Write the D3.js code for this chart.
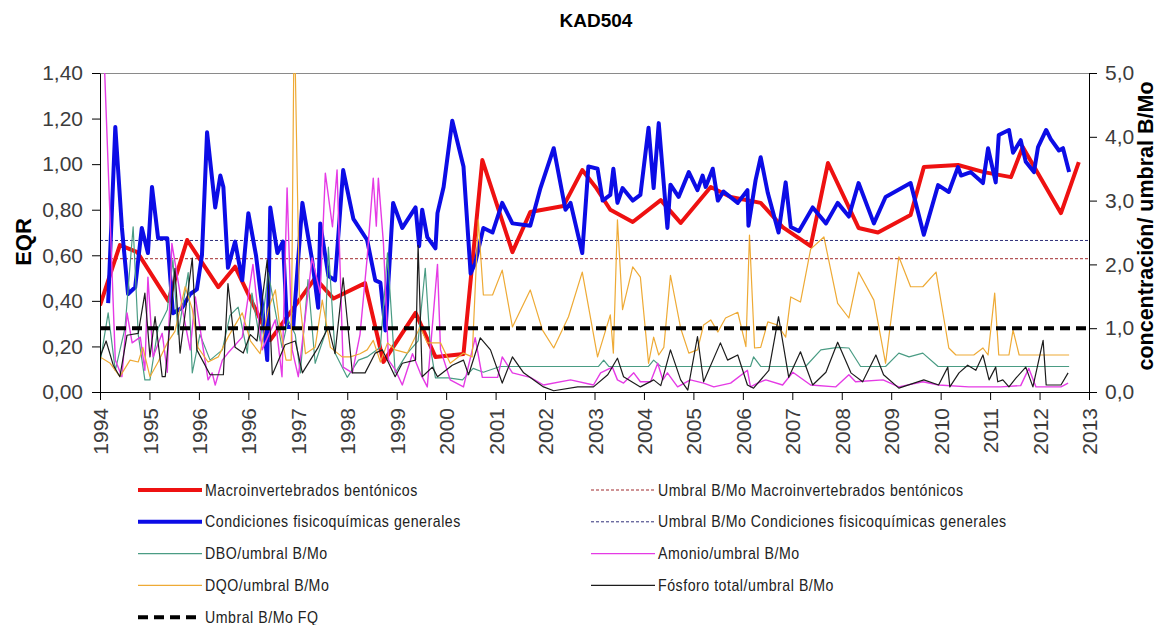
<!DOCTYPE html>
<html lang="es">
<head>
<meta charset="utf-8">
<title>KAD504</title>
<script src="https://cdn.jsdelivr.net/npm/d3@7"></script>
<style>
    body { margin: 0; background: #fff; }
    text { font-family: 'Liberation Sans', Arial, sans-serif; }
    .tick text { fill: #3c3c3c; font-size: 21px; }
    .tick line, .domain { stroke: #000; }
    .legend text {
        font-family: 'Liberation Sans Narrow', 'Arial Narrow', 'Liberation Sans', sans-serif;
        font-size: 16px;
        letter-spacing: 0.6px;
        fill: #222;
    }
</style>
</head>
<body>
<div class="chart-container"></div>
<script>
// x axis: date axis, one tick every ~0.97 years starting early 1994
const tickLabels = ['1994', '1995', '1996', '1996', '1997', '1998', '1999', '2000', '2001', '2002', '2003',
    '2004', '2005', '2006', '2007', '2008', '2009', '2010', '2011', '2012', '2013']
const axisStart = 1994.07
const tickStep = 0.97

const eqrTicks = [0, 0.2, 0.4, 0.6, 0.8, 1.0, 1.2, 1.4]
const ratioTicks = [0, 1, 2, 3, 4, 5]

// thresholds
const umbralMacro = 0.585
const umbralCondiciones = 0.665
const umbralFQ = 1.0

// EQR series (left axis)
const macro = [[1994.07, 0.38], [1994.46, 0.645], [1994.80, 0.614], [1995.41, 0.40], [1995.78, 0.667],
    [1996.39, 0.46], [1996.72, 0.55], [1997.41, 0.228], [1998.29, 0.50], [1998.65, 0.41], [1999.27, 0.478],
    [1999.63, 0.132], [2000.26, 0.347], [2000.65, 0.154], [2001.20, 0.167], [2001.57, 1.018], [2002.16, 0.614],
    [2002.51, 0.79], [2003.16, 0.816], [2003.53, 0.974], [2003.79, 0.90], [2004.08, 0.80], [2004.52, 0.746],
    [2005.07, 0.842], [2005.46, 0.742], [2006.05, 0.90], [2006.44, 0.856], [2007.03, 0.83], [2007.46, 0.724],
    [2008.01, 0.64], [2008.35, 1.005], [2008.95, 0.72], [2009.33, 0.70], [2009.97, 0.777], [2010.23, 0.987],
    [2010.90, 0.996], [2011.41, 0.965], [2011.94, 0.943], [2012.17, 1.075], [2012.92, 0.785], [2013.27, 1.009]]

const condiciones = [[1994.23, 0.39], [1994.37, 1.163], [1994.50, 0.72], [1994.62, 0.43], [1994.76, 0.46],
    [1994.89, 0.72], [1995.01, 0.61], [1995.09, 0.90], [1995.21, 0.675], [1995.39, 0.675], [1995.50, 0.346],
    [1995.68, 0.37], [1995.84, 0.43], [1995.97, 0.45], [1996.07, 0.60], [1996.17, 1.14], [1996.33, 0.81],
    [1996.43, 0.95], [1996.49, 0.90], [1996.58, 0.545], [1996.72, 0.66], [1996.86, 0.49], [1996.98, 0.785],
    [1997.13, 0.60], [1997.25, 0.38], [1997.35, 0.14], [1997.41, 0.81], [1997.55, 0.61], [1997.66, 0.66],
    [1997.74, 0.285], [1997.86, 0.285], [1998.04, 0.83], [1998.23, 0.58], [1998.35, 0.37], [1998.39, 0.74],
    [1998.55, 0.51], [1998.68, 0.49], [1998.84, 0.974], [1999.04, 0.76], [1999.31, 0.667], [1999.47, 0.49],
    [1999.57, 0.48], [1999.67, 0.27], [1999.82, 0.83], [2000.00, 0.72], [2000.26, 0.81], [2000.33, 0.64],
    [2000.39, 0.80], [2000.49, 0.68], [2000.65, 0.63], [2000.69, 0.785], [2000.81, 0.90], [2000.98, 1.19],
    [2001.20, 0.99], [2001.34, 0.52], [2001.43, 0.566], [2001.59, 0.72], [2001.77, 0.70], [2001.96, 0.83],
    [2002.16, 0.74], [2002.51, 0.73], [2002.71, 0.895], [2002.97, 1.07], [2003.20, 0.80], [2003.30, 0.83],
    [2003.53, 0.61], [2003.65, 0.99], [2003.83, 0.98], [2003.93, 0.84], [2004.08, 0.865], [2004.14, 0.98],
    [2004.22, 0.83], [2004.32, 0.895], [2004.52, 0.84], [2004.67, 0.865], [2004.83, 1.16], [2004.93, 0.895],
    [2005.03, 1.18], [2005.20, 0.72], [2005.26, 0.91], [2005.42, 0.856], [2005.62, 0.965], [2005.79, 0.886],
    [2005.89, 0.95], [2005.95, 0.90], [2006.09, 0.98], [2006.19, 0.84], [2006.30, 0.88], [2006.58, 0.83],
    [2006.77, 0.886], [2006.79, 0.73], [2006.93, 0.93], [2007.03, 1.03], [2007.17, 0.873], [2007.38, 0.70],
    [2007.52, 0.92], [2007.62, 0.724], [2007.78, 0.706], [2008.05, 0.81], [2008.31, 0.74], [2008.54, 0.83],
    [2008.76, 0.77], [2008.95, 0.917], [2009.25, 0.74], [2009.48, 0.856], [2009.97, 0.917], [2010.23, 0.69],
    [2010.51, 0.908], [2010.72, 0.878], [2010.90, 0.987], [2010.96, 0.95], [2011.15, 0.965], [2011.39, 0.917],
    [2011.49, 1.07], [2011.64, 0.92], [2011.70, 1.128], [2011.90, 1.15], [2011.98, 1.05], [2012.13, 1.105],
    [2012.23, 1.01], [2012.39, 0.965], [2012.47, 1.075], [2012.63, 1.15], [2012.72, 1.11], [2012.88, 1.06],
    [2012.96, 1.07], [2013.08, 0.965]]

// concentration / B-Mo threshold series (right axis)
const dbo = [[1994.07, 0.45], [1994.23, 1.24], [1994.37, 0.34], [1994.56, 1.0], [1994.72, 2.59], [1994.82, 0.9],
    [1994.95, 0.19], [1995.05, 0.19], [1995.21, 1.0], [1995.39, 1.29], [1995.50, 2.07], [1995.60, 0.9],
    [1995.80, 1.87], [1995.88, 0.3], [1996.03, 0.9], [1996.23, 0.5], [1996.47, 0.66], [1996.62, 1.2],
    [1996.78, 1.33], [1996.96, 0.61], [1997.05, 1.55], [1997.21, 0.8], [1997.37, 1.87], [1997.64, 0.70],
    [1997.76, 1.13], [1997.90, 0.9], [1998.00, 0.3], [1998.15, 1.76], [1998.29, 0.45], [1998.49, 0.92],
    [1998.55, 2.27], [1998.68, 0.61], [1998.92, 0.23], [1999.14, 0.5], [1999.31, 0.55], [1999.57, 0.70],
    [1999.71, 2.18], [1999.86, 0.30], [2000.10, 0.61], [2000.31, 0.8], [2000.45, 1.94], [2000.55, 0.70],
    [2000.65, 0.22], [2000.90, 0.22], [2001.18, 0.19], [2001.39, 0.37], [2001.59, 0.31], [2001.92, 0.40],
    [2003.85, 0.40], [2003.95, 0.5], [2004.05, 0.40], [2004.83, 0.40], [2004.93, 0.5], [2005.07, 0.40],
    [2006.83, 0.40], [2006.89, 0.55], [2007.03, 0.40], [2007.91, 0.40], [2008.21, 0.66], [2008.54, 0.70],
    [2008.76, 0.69], [2008.99, 0.40], [2009.48, 0.40], [2009.74, 0.61], [2009.94, 0.55], [2010.21, 0.61],
    [2010.51, 0.40], [2013.08, 0.40]]

const amonio = [[1994.07, 7.0], [1994.37, 0.5], [1994.50, 0.24], [1994.60, 1.24], [1994.70, 0.77],
    [1994.86, 0.86], [1994.95, 0.34], [1995.01, 1.8], [1995.11, 0.55], [1995.29, 0.92], [1995.39, 0.31],
    [1995.48, 2.33], [1995.64, 1.55], [1995.70, 1.24], [1995.84, 0.66], [1995.94, 1.49], [1996.07, 0.8],
    [1996.19, 0.19], [1996.27, 0.3], [1996.33, 0.11], [1996.47, 0.5], [1996.58, 0.61], [1996.86, 0.86],
    [1997.07, 2.0], [1997.25, 0.66], [1997.51, 1.13], [1997.64, 0.24], [1997.74, 3.2], [1997.84, 0.66],
    [1997.96, 0.24], [1998.23, 2.1], [1998.39, 1.55], [1998.49, 3.43], [1998.63, 2.59], [1998.72, 3.48],
    [1998.84, 0.39], [1999.02, 0.3], [1999.17, 0.9], [1999.31, 2.1], [1999.43, 3.35], [1999.49, 2.6],
    [1999.53, 3.35], [1999.63, 2.33], [1999.73, 0.5], [1999.86, 0.35], [2000.00, 0.11], [2000.20, 0.6],
    [2000.35, 0.3], [2000.49, 0.08], [2000.69, 2.0], [2000.75, 0.66], [2000.94, 0.19], [2001.20, 0.08],
    [2001.43, 0.85], [2001.57, 0.23], [2001.87, 0.23], [2001.96, 0.55], [2002.16, 0.3], [2002.51, 0.23],
    [2002.77, 0.11], [2003.30, 0.19], [2003.75, 0.11], [2003.89, 0.3], [2004.12, 0.39], [2004.22, 0.19],
    [2004.34, 0.14], [2004.54, 0.3], [2004.67, 0.16], [2004.87, 0.16], [2005.01, 0.45], [2005.11, 0.19],
    [2005.20, 0.3], [2005.40, 0.08], [2005.65, 0.19], [2005.91, 0.14], [2006.11, 0.08], [2006.44, 0.14],
    [2006.77, 0.34], [2006.83, 0.08], [2006.97, 0.14], [2007.13, 0.19], [2007.46, 0.11], [2007.66, 0.31],
    [2008.01, 0.11], [2008.50, 0.08], [2008.76, 0.27], [2008.89, 0.16], [2009.43, 0.19], [2009.74, 0.08],
    [2010.21, 0.16], [2010.52, 0.11], [2011.11, 0.08], [2011.74, 0.08], [2012.13, 0.1], [2012.29, 0.37],
    [2012.43, 0.08], [2012.92, 0.08], [2013.06, 0.14]]

const dqo = [[1994.07, 0.55], [1994.27, 0.45], [1994.46, 0.24], [1994.66, 0.5], [1994.82, 0.47],
    [1994.91, 0.70], [1995.05, 0.24], [1995.21, 0.47], [1995.39, 0.77], [1995.54, 0.95], [1995.74, 1.65],
    [1995.88, 1.3], [1995.99, 0.70], [1996.19, 0.47], [1996.39, 0.55], [1996.58, 0.86], [1996.86, 1.24],
    [1997.02, 0.8], [1997.21, 0.6], [1997.37, 1.3], [1997.51, 1.6], [1997.60, 1.0], [1997.72, 0.5],
    [1997.82, 0.5], [1997.88, 6.0], [1997.98, 1.5], [1998.10, 0.6], [1998.29, 0.70], [1998.43, 1.44],
    [1998.59, 0.7], [1998.82, 0.55], [1998.98, 0.55], [1999.17, 0.6], [1999.31, 0.66], [1999.43, 0.81],
    [1999.57, 0.47], [1999.71, 0.77], [1999.86, 0.66], [2000.10, 0.61], [2000.35, 1.02], [2000.49, 0.77],
    [2000.75, 0.77], [2000.94, 0.45], [2001.20, 0.61], [2001.37, 0.55], [2001.49, 2.7], [2001.59, 1.52],
    [2001.77, 1.52], [2001.96, 1.91], [2002.16, 1.02], [2002.51, 1.6], [2002.75, 0.97], [2002.97, 0.69],
    [2003.26, 1.18], [2003.53, 1.88], [2003.83, 0.55], [2004.08, 1.21], [2004.14, 0.61], [2004.22, 2.70],
    [2004.32, 1.29], [2004.52, 1.96], [2004.67, 1.8], [2004.83, 0.45], [2004.93, 0.86], [2005.03, 0.58],
    [2005.13, 0.7], [2005.26, 1.83], [2005.46, 1.0], [2005.62, 0.61], [2005.79, 0.66], [2005.91, 1.05],
    [2006.05, 1.13], [2006.19, 0.94], [2006.34, 1.16], [2006.58, 1.25], [2006.74, 0.71], [2006.81, 2.46],
    [2006.91, 0.69], [2007.03, 0.70], [2007.17, 1.1], [2007.36, 1.05], [2007.52, 0.86], [2007.62, 1.49],
    [2007.81, 1.41], [2008.01, 2.24], [2008.27, 2.43], [2008.54, 1.39], [2008.76, 1.16], [2008.95, 1.88],
    [2009.25, 1.44], [2009.48, 0.45], [2009.74, 2.12], [2009.97, 1.65], [2010.21, 1.65], [2010.47, 1.88],
    [2010.72, 0.69], [2010.86, 0.58], [2011.21, 0.58], [2011.39, 0.69], [2011.49, 0.58], [2011.62, 1.55],
    [2011.70, 0.58], [2011.90, 0.58], [2011.98, 0.97], [2012.10, 0.58], [2013.08, 0.58]]

const fosforo = [[1994.07, 0.55], [1994.19, 0.8], [1994.33, 0.42], [1994.46, 0.24], [1994.60, 0.89],
    [1994.82, 0.92], [1994.95, 1.55], [1995.05, 0.55], [1995.15, 1.18], [1995.29, 0.24], [1995.35, 0.24],
    [1995.39, 0.61], [1995.54, 1.94], [1995.64, 0.61], [1995.88, 2.1], [1995.97, 0.66], [1996.23, 0.27],
    [1996.49, 0.27], [1996.58, 1.7], [1996.72, 0.7], [1996.88, 0.61], [1997.02, 0.9], [1997.15, 0.8],
    [1997.35, 2.07], [1997.45, 0.27], [1997.70, 0.74], [1997.90, 0.8], [1998.04, 0.3], [1998.35, 0.7],
    [1998.55, 1.02], [1998.68, 0.6], [1998.84, 1.79], [1999.02, 0.3], [1999.27, 0.3], [1999.47, 0.61],
    [1999.61, 0.66], [1999.86, 0.24], [2000.00, 0.45], [2000.26, 0.5], [2000.31, 2.3], [2000.39, 0.24],
    [2000.59, 0.39], [2000.69, 0.24], [2000.98, 0.42], [2001.20, 0.5], [2001.30, 0.27], [2001.53, 0.85],
    [2001.73, 0.66], [2001.96, 0.14], [2002.16, 0.55], [2002.38, 0.3], [2002.77, 0.08], [2002.97, 0.02],
    [2003.44, 0.08], [2003.75, 0.08], [2004.03, 0.27], [2004.22, 0.53], [2004.34, 0.24], [2004.67, 0.08],
    [2004.93, 0.19], [2005.07, 0.1], [2005.26, 0.66], [2005.46, 0.19], [2005.60, 0.03], [2005.79, 0.87],
    [2005.91, 0.16], [2006.24, 0.77], [2006.38, 0.5], [2006.58, 0.58], [2006.77, 0.11], [2006.89, 0.06],
    [2007.19, 0.34], [2007.38, 1.18], [2007.58, 0.23], [2007.81, 0.63], [2008.05, 0.11], [2008.31, 0.31],
    [2008.54, 0.78], [2008.80, 0.3], [2009.03, 0.16], [2009.29, 0.58], [2009.44, 0.27], [2009.74, 0.06],
    [2010.23, 0.19], [2010.52, 0.11], [2010.70, 0.39], [2010.74, 0.08], [2010.92, 0.30], [2011.09, 0.42],
    [2011.25, 0.34], [2011.39, 0.58], [2011.51, 0.19], [2011.64, 0.39], [2011.68, 0.16], [2011.78, 0.19],
    [2011.90, 0.08], [2012.04, 0.22], [2012.23, 0.39], [2012.37, 0.08], [2012.57, 0.81], [2012.63, 0.11],
    [2012.92, 0.11], [2013.06, 0.30]]

const width = 1159
const height = 625
const plot = { left: 100, right: 1089, top: 73, bottom: 392 }

const locale = d3.formatLocale({ decimal: ',', thousands: '.', grouping: [3], currency: ['', ' €'] })
const axisEnd = axisStart + tickStep * (tickLabels.length - 1)
const tickYears = tickLabels.map((d, i) => axisStart + i * tickStep)

const x = d3.scaleLinear().domain([axisStart, axisEnd]).range([plot.left, plot.right])
const yLeft = d3.scaleLinear().domain([0, 1.4]).range([plot.bottom, plot.top])
const yRight = d3.scaleLinear().domain([0, 5]).range([plot.bottom, plot.top])

const svg = d3
    .select('.chart-container')
    .append('svg')
    .attr('width', width)
    .attr('height', height)

svg.append('defs')
    .append('clipPath')
    .attr('id', 'plot-clip')
    .append('rect')
    .attr('x', plot.left)
    .attr('y', plot.top)
    .attr('width', plot.right - plot.left)
    .attr('height', plot.bottom - plot.top)

svg.append('text')
    .attr('x', 596)
    .attr('y', 27)
    .attr('text-anchor', 'middle')
    .style('font-size', '19px')
    .style('font-weight', 'bold')
    .text('KAD504')

// plot area top border
svg.append('line')
    .attr('x1', plot.left)
    .attr('x2', plot.right)
    .attr('y1', plot.top + 0.5)
    .attr('y2', plot.top + 0.5)
    .attr('stroke', '#8a8a8a')

// series, primary axis first so the ratio lines sit on top like in Excel
const series = [
    { data: [[axisStart, umbralMacro], [axisEnd, umbralMacro]], y: yLeft, color: '#a0282c', width: 1, dash: '3,2' },
    { data: [[axisStart, umbralCondiciones], [axisEnd, umbralCondiciones]], y: yLeft, color: '#30307a', width: 1, dash: '3,2' },
    { data: macro, y: yLeft, color: '#ee1111', width: 4 },
    { data: condiciones, y: yLeft, color: '#0c0ce6', width: 4 },
    { data: dbo, y: yRight, color: '#4a9c84', width: 1.2 },
    { data: amonio, y: yRight, color: '#e53be5', width: 1.4 },
    { data: dqo, y: yRight, color: '#eeaa35', width: 1.2 },
    { data: fosforo, y: yRight, color: '#1c1c1c', width: 1.2 },
    { data: [[axisStart, umbralFQ], [axisEnd, umbralFQ]], y: yRight, color: '#000', width: 4, dash: '10,6' }
]

const lines = svg.append('g').attr('clip-path', 'url(#plot-clip)')

lines.selectAll('path')
    .data(series)
    .enter()
    .append('path')
    .attr('fill', 'none')
    .attr('stroke', d => d.color)
    .attr('stroke-width', d => d.width)
    .attr('stroke-dasharray', d => d.dash || null)
    .attr('stroke-linejoin', 'round')
    .attr('d', d => d3.line().x(p => x(p[0])).y(p => d.y(p[1]))(d.data))

// axes
const xAxis = svg.append('g')
    .attr('transform', `translate(0,${plot.bottom})`)
    .call(d3.axisBottom(x)
        .tickValues(tickYears)
        .tickFormat((d, i) => tickLabels[i])
        .tickSize(8)
        .tickSizeOuter(0))
xAxis.selectAll('.tick text')
    .attr('transform', 'rotate(-90)')
    .attr('x', -16)
    .attr('y', 0)
    .attr('dy', '0.36em')
    .style('text-anchor', 'end')

svg.append('g')
    .attr('transform', `translate(${plot.left},0)`)
    .call(d3.axisLeft(yLeft)
        .tickValues(eqrTicks)
        .tickFormat(locale.format('.2f'))
        .tickSize(8)
        .tickPadding(9)
        .tickSizeOuter(0))

svg.append('g')
    .attr('transform', `translate(${plot.right},0)`)
    .call(d3.axisRight(yRight)
        .tickValues(ratioTicks)
        .tickFormat(locale.format('.1f'))
        .tickSize(8)
        .tickPadding(8)
        .tickSizeOuter(0))

svg.append('text')
    .attr('transform', 'translate(31,242) rotate(-90)')
    .attr('text-anchor', 'middle')
    .style('font-size', '22px')
    .style('font-weight', 'bold')
    .text('EQR')

svg.append('text')
    .attr('transform', 'translate(1153,226) rotate(-90)')
    .attr('text-anchor', 'middle')
    .style('font-size', '21.5px')
    .style('font-weight', 'bold')
    .text('concentración/ umbral B/Mo')

// legend, two columns
const legendItems = [
    { label: 'Macroinvertebrados bentónicos', s: 2, col: 0, row: 0 },
    { label: 'Condiciones fisicoquímicas generales', s: 3, col: 0, row: 1 },
    { label: 'DBO/umbral B/Mo', s: 4, col: 0, row: 2 },
    { label: 'DQO/umbral B/Mo', s: 6, col: 0, row: 3 },
    { label: 'Umbral B/Mo FQ', s: 8, col: 0, row: 4 },
    { label: 'Umbral B/Mo Macroinvertebrados bentónicos', s: 0, col: 1, row: 0 },
    { label: 'Umbral B/Mo Condiciones fisicoquímicas generales', s: 1, col: 1, row: 1 },
    { label: 'Amonio/umbral B/Mo', s: 5, col: 1, row: 2 },
    { label: 'Fósforo total/umbral B/Mo', s: 7, col: 1, row: 3 }
]
const LEGEND_COL_X = [138, 591]
const LEGEND_LINE_W = 64
const LEGEND_TOP = 490
const LEGEND_ROW_H = 31.8
const LEGEND_TEXT_SQUEEZE = 0.885

const legendElem = svg.append('g')
    .attr('class', 'legend')
    .selectAll('g')
    .data(legendItems)
    .enter()
    .append('g')
    .attr('transform', d => `translate(${LEGEND_COL_X[d.col]},${LEGEND_TOP + d.row * LEGEND_ROW_H})`)

legendElem.append('line')
    .attr('x1', 0)
    .attr('x2', LEGEND_LINE_W)
    .attr('stroke', d => series[d.s].color)
    .attr('stroke-width', d => series[d.s].width)
    .attr('stroke-dasharray', d => series[d.s].dash || null)

legendElem.append('text')
    .attr('transform', `translate(${LEGEND_LINE_W + 3},0) scale(${LEGEND_TEXT_SQUEEZE},1)`)
    .attr('dy', '0.35em')
    .text(d => d.label)
</script>
</body>
</html>
